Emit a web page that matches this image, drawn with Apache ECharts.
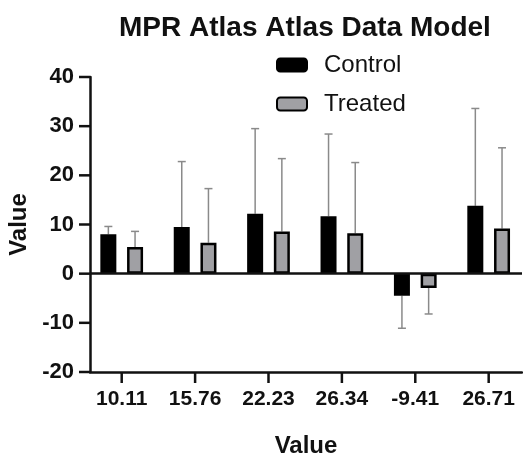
<!DOCTYPE html>
<html>
<head>
<meta charset="utf-8">
<script src="https://cdn.jsdelivr.net/npm/echarts@6/dist/echarts.min.js"></script>
<style>
html,body{margin:0;padding:0;background:#fff;}
#chart{width:523px;height:454px;}
</style>
</head>
<body>
<div id="chart"></div>
<script>
var categories = ['10.11', '15.76', '22.23', '26.34', '-9.41', '26.71'];
var controlMean = [8.0, 9.5, 12.2, 11.7, -4.5, 13.8];
var controlErr = [1.6, 13.3, 17.3, 16.7, 6.6, 19.8];
var treatedMean = [5.4, 6.3, 8.6, 8.2, -2.9, 9.2];
var treatedErr = [3.2, 11.0, 14.8, 14.4, 5.3, 16.4];
var yTicks = [-20, -10, 0, 10, 20, 30, 40];

var FONT = '"Liberation Sans", Arial, sans-serif';
var idx = categories.map(function (c, i) { return i; });
var TICK_LEN = 11;
var tickStyle = { stroke: '#111', lineWidth: 2.5 };

function pairs(vals) { return vals.map(function (v, i) { return [i, v]; }); }
function errData(mean, err) { return mean.map(function (v, i) { return [i, v, err[i]]; }); }

function errRenderer(offsetPx) {
  return function (params, api) {
    var i = api.value(0), m = api.value(1), e = api.value(2);
    var end = m >= 0 ? m + e : m - e;
    var p0 = api.coord([i, m]);
    var p1 = api.coord([i, end]);
    var x = p0[0] + offsetPx;
    var style = { stroke: '#8a8a8a', lineWidth: 1.5 };
    return {
      type: 'group',
      children: [
        { type: 'line', shape: { x1: x, y1: p0[1], x2: x, y2: p1[1] }, style: style },
        { type: 'line', shape: { x1: x - 4, y1: p1[1], x2: x + 4, y2: p1[1] }, style: style }
      ]
    };
  };
}

function yTickRenderer(params, api) {
  var x = params.coordSys.x;
  var y = api.coord([0, api.value(1)])[1];
  return { type: 'line', shape: { x1: x - TICK_LEN, y1: y, x2: x, y2: y }, style: tickStyle };
}
function xTickRenderer(params, api) {
  var y = params.coordSys.y + params.coordSys.height;
  var x = api.coord([api.value(0), 0])[0];
  return { type: 'line', shape: { x1: x, y1: y, x2: x, y2: y + TICK_LEN }, style: tickStyle };
}

var chart = echarts.init(document.getElementById('chart'), null, { renderer: 'canvas' });
chart.setOption({
  animation: false,
  backgroundColor: '#ffffff',
  title: {
    text: 'MPR Atlas Atlas Data Model',
    left: 114, top: 9,
    textStyle: { fontFamily: FONT, fontSize: 28, fontWeight: 'bold', color: '#111' }
  },
  legend: {
    orient: 'vertical',
    left: 271, top: 48,
    itemWidth: 30, itemHeight: 13,
    itemGap: 15,
    data: ['Control', 'Treated'],
    textStyle: { fontFamily: FONT, fontSize: 24, color: '#111', padding: [0, 0, 0, 12] }
  },
  grid: { left: 90, right: 1, top: 77, bottom: 82, outerBoundsMode: 'none' },
  xAxis: {
    type: 'value',
    min: -0.432, max: 5.454,
    name: 'Value',
    nameLocation: 'middle',
    nameGap: 62,
    nameTextStyle: { fontFamily: FONT, fontSize: 24, fontWeight: 'bold', color: '#111' },
    axisLine: { show: true, onZero: false, lineStyle: { color: '#111', width: 2.5 } },
    axisTick: { show: false },
    axisLabel: {
      customValues: idx,
      margin: 17,
      formatter: function (v) { return categories[Math.round(v)]; },
      fontFamily: FONT, fontSize: 21, fontWeight: 'bold', color: '#111'
    },
    splitLine: { show: false }
  },
  yAxis: {
    type: 'value',
    min: -20, max: 40, interval: 10,
    name: 'Value',
    nameLocation: 'middle',
    nameGap: 57,
    nameTextStyle: { fontFamily: FONT, fontSize: 24, fontWeight: 'bold', color: '#111' },
    axisLine: { show: true, onZero: false, lineStyle: { color: '#111', width: 2.5 } },
    axisTick: { show: false },
    axisLabel: {
      margin: 16,
      fontFamily: FONT, fontSize: 22, fontWeight: 'bold', color: '#111'
    },
    splitLine: { show: false }
  },
  series: [
    {
      name: 'Control', type: 'bar',
      data: pairs(controlMean),
      barWidth: 16, barGap: '67%',
      itemStyle: { color: '#000000', borderColor: '#000000', borderWidth: 2 },
      markLine: {
        silent: true, symbol: 'none', label: { show: false },
        lineStyle: { color: '#111', width: 2.5, type: 'solid' },
        data: [{ yAxis: 0 }]
      }
    },
    {
      name: 'Treated', type: 'bar',
      data: pairs(treatedMean),
      barWidth: 16,
      itemStyle: { color: '#a0a0a4', borderColor: '#000000', borderWidth: 2.5 }
    },
    {
      name: 'ControlErr', type: 'custom',
      data: errData(controlMean, controlErr),
      renderItem: errRenderer(-13.35),
      z: 1
    },
    {
      name: 'TreatedErr', type: 'custom',
      data: errData(treatedMean, treatedErr),
      renderItem: errRenderer(13.35),
      z: 1
    },
    {
      name: 'yTicks', type: 'custom', silent: true, clip: false,
      data: yTicks.map(function (v) { return [0, v]; }),
      renderItem: yTickRenderer
    },
    {
      name: 'xTicks', type: 'custom', silent: true, clip: false,
      data: idx.map(function (i) { return [i, 0]; }),
      renderItem: xTickRenderer
    }
  ]
});
</script>
</body>
</html>
